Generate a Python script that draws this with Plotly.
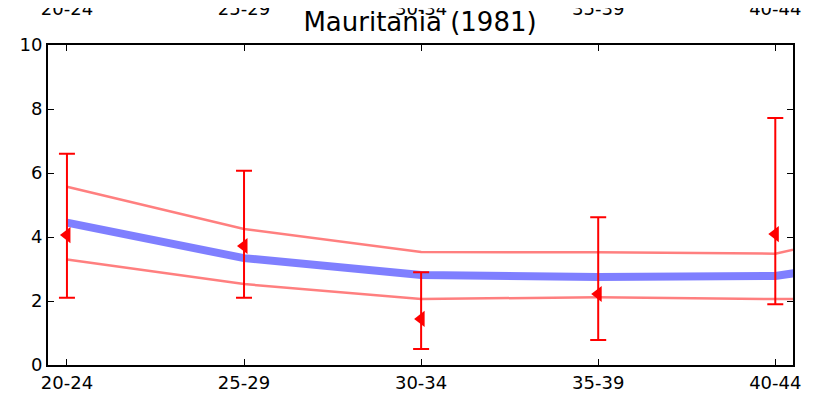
import plotly.graph_objects as go

# --- data ---
age_groups = ["20-24", "25-29", "30-34", "35-39", "40-44"]
line_groups = ["20-24", "25-29", "30-34", "35-39", "40-44", "45-49"]

# observed points with asymmetric error bars
obs_value = [4.06, 3.72, 1.44, 2.22, 4.09]
obs_upper = [6.60, 6.07, 2.90, 4.62, 7.72]
obs_lower = [2.10, 2.10, 0.50, 0.78, 1.90]

# model fit and band
fit_mid = [4.45, 3.34, 2.81, 2.75, 2.78, 3.6]
fit_upper = [5.57, 4.25, 3.53, 3.52, 3.48, 4.7]
fit_lower = [3.30, 2.53, 2.06, 2.12, 2.06, 2.08]

err_plus = [u - v for u, v in zip(obs_upper, obs_value)]
err_minus = [v - l for v, l in zip(obs_value, obs_lower)]

FONT = "DejaVu Sans"
x_range = [-0.107, 4.1]

fig = go.Figure()

# band lines (light red)
for band in (fit_upper, fit_lower):
    fig.add_trace(go.Scatter(
        x=line_groups, y=band, mode="lines",
        line=dict(color="rgba(255,0,0,0.5)", width=2.5),
        showlegend=False, hoverinfo="skip"))

# fitted line (thick translucent blue)
fig.add_trace(go.Scatter(
    x=line_groups, y=fit_mid, mode="lines",
    line=dict(color="rgba(0,0,255,0.5)", width=8),
    showlegend=False, hoverinfo="skip"))

# observations with error bars
fig.add_trace(go.Scatter(
    x=age_groups, y=obs_value, mode="markers",
    marker=dict(symbol="triangle-left", color="red", size=14),
    error_y=dict(type="data", symmetric=False, array=err_plus,
                 arrayminus=err_minus, color="red", thickness=2, width=8),
    showlegend=False))

# invisible trace to drive the top axis labels
fig.add_trace(go.Scatter(
    x=age_groups, y=obs_value, xaxis="x2", mode="markers",
    marker=dict(opacity=0), showlegend=False, hoverinfo="skip"))

# page body has an 8px margin, so the figure is shifted by 8px
fig.update_layout(
    width=816, height=394,
    margin=dict(l=40, r=31, t=37, b=37, autoexpand=False),
    paper_bgcolor="white", plot_bgcolor="white",
    font=dict(family=FONT, size=18, color="black"),
    title=dict(text="Mauritania (1981)", x=(420 - 8) / 816, xanchor="center",
               y=1 - 14 / 394, yanchor="middle", font=dict(size=26)),
    xaxis=dict(
        type="category", categoryorder="array", categoryarray=line_groups,
        range=x_range, showline=True, linecolor="black", linewidth=2,
        mirror="ticks", ticks="inside", ticklen=6, tickcolor="black",
        showgrid=False, zeroline=False, automargin=False),
    xaxis2=dict(
        type="category", categoryorder="array", categoryarray=line_groups,
        range=x_range, overlaying="x", side="top", anchor="y",
        showline=False, ticks="", showgrid=False, zeroline=False,
        ticklabelstandoff=25, automargin=False),
    yaxis=dict(
        range=[0, 10], tickvals=[0, 2, 4, 6, 8, 10],
        showline=True, linecolor="black", linewidth=2,
        mirror="ticks", ticks="inside", ticklen=6, tickcolor="black",
        showgrid=False, zeroline=False, automargin=False),
)

fig.write_html("out.html")
